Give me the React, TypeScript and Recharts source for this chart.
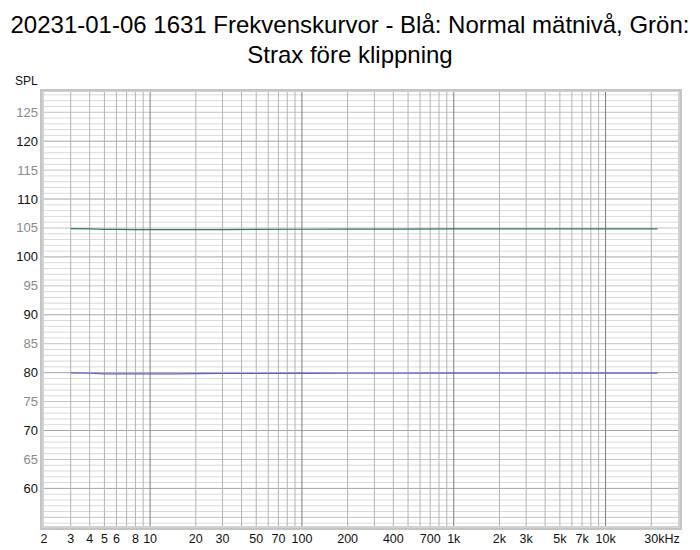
import { LineChart, Line, XAxis, YAxis, ReferenceLine, CartesianGrid } from 'recharts';

// frequencies (Hz) and levels (dB SPL)
const freqs = [3, 4, 5, 6, 8, 10, 15, 20, 30, 50, 100, 200, 500, 1000, 2000, 5000, 10000, 20000, 22000];
const greenSpl = [104.9, 104.85, 104.75, 104.75, 104.72, 104.7, 104.7, 104.7, 104.72, 104.75, 104.78, 104.8, 104.82, 104.85, 104.85, 104.85, 104.85, 104.85, 104.85];
const blueSpl = [79.95, 79.9, 79.78, 79.8, 79.78, 79.78, 79.8, 79.82, 79.85, 79.85, 79.88, 79.9, 79.9, 79.92, 79.93, 79.93, 79.93, 79.93, 79.93];

const xTicks = [2, 3, 4, 5, 6, 8, 10, 20, 30, 50, 70, 100, 200, 400, 700, 1000, 2000, 3000, 5000, 7000, 10000, 30000];
const xTickLabels = ['2', '3', '4', '5', '6', '8', '10', '20', '30', '50', '70', '100', '200', '400', '700', '1k', '2k', '3k', '5k', '7k', '10k', '30kHz'];
const yTicks = [60, 65, 70, 75, 80, 85, 90, 95, 100, 105, 110, 115, 120, 125];

const decadeLines = [10, 100, 1000, 10000];
const minorFreqLines = [
  3, 4, 5, 6, 7, 8, 9,
  20, 30, 40, 50, 60, 70, 80, 90,
  200, 300, 400, 500, 600, 700, 800, 900,
  2000, 3000, 4000, 5000, 6000, 7000, 8000, 9000,
  20000,
];
const splLines = Array.from({ length: 75 }, (_, i) => 54 + i);

const data = freqs.map((f, i) => ({ f, green: greenSpl[i], blue: blueSpl[i] }));

const FONT = '"Liberation Sans", Arial, sans-serif';

function XTick({ x, payload }: any) {
  const idx = xTicks.indexOf(payload.value);
  const last = idx === xTicks.length - 1;
  return (
    <text x={last ? x - 16 : x} y={543} textAnchor="middle" fontSize={12.5} fontFamily={FONT} fill="#111">
      {xTickLabels[idx]}
    </text>
  );
}

function YTick({ y, payload }: any) {
  const major = payload.value % 10 === 0;
  return (
    <text x={38} y={y + 4.5} textAnchor="end" fontSize={13} fontFamily={FONT} fill={major ? '#111' : '#8a8a8a'}>
      {payload.value}
    </text>
  );
}

function gridColor(v: number) {
  if (v % 10 === 0) return '#a6a6a6';
  if (v % 5 === 0) return '#c4c4c4';
  return '#dadada';
}

export default function App() {
  return (
    <div style={{ position: 'fixed', left: 0, top: 0, width: 700, height: 550, background: '#fff', fontFamily: FONT }}>
      <div style={{ position: 'absolute', left: 0, top: 10, width: 700, textAlign: 'center', fontSize: 24, lineHeight: '30px', color: '#000' }}>
        20231-01-06 1631 Frekvenskurvor - Blå: Normal mätnivå, Grön:
        <br />
        Strax före klippning
      </div>
      <div style={{ position: 'absolute', left: 15, top: 74, fontSize: 12, color: '#111' }}>SPL</div>
      {/* bevelled frame behind plot area */}
      <div style={{ position: 'absolute', left: 40, top: 89, width: 642, height: 441, background: '#d2d2d2', boxSizing: 'border-box', border: '2px solid #c4c4c4' }} />
      <div style={{ position: 'absolute', left: 0, top: 0 }}>
        <LineChart width={700} height={550} data={data} margin={{ top: 92, right: 22, bottom: 0, left: 0 }}>
          <CartesianGrid fill="#fff" horizontal={false} vertical={false} />
          {splLines.map((v) => (
            <ReferenceLine key={'h' + v} y={v} stroke={gridColor(v)} strokeWidth={1} />
          ))}
          {minorFreqLines.map((f) => (
            <ReferenceLine key={'m' + f} x={f} stroke="#b2b2b2" strokeWidth={1} />
          ))}
          {decadeLines.map((f) => (
            <ReferenceLine key={'d' + f} x={f} stroke="#7c7c7c" strokeWidth={1} />
          ))}
          <XAxis
            dataKey="f"
            type="number"
            scale="log"
            domain={[2, 30000]}
            ticks={xTicks}
            allowDataOverflow
            height={24}
            axisLine={false}
            tickLine={false}
            tick={<XTick />}
            interval={0}
          />
          <YAxis
            type="number"
            domain={[53.5, 128.5]}
            ticks={yTicks}
            allowDataOverflow
            width={44}
            axisLine={false}
            tickLine={false}
            tick={<YTick />}
            interval={0}
          />
          <Line type="linear" dataKey="green" stroke="#2f7d57" strokeWidth={1.2} dot={false} isAnimationActive={false} />
          <Line type="linear" dataKey="blue" stroke="#5c5cd6" strokeWidth={1.2} dot={false} isAnimationActive={false} />
        </LineChart>
      </div>
    </div>
  );
}
